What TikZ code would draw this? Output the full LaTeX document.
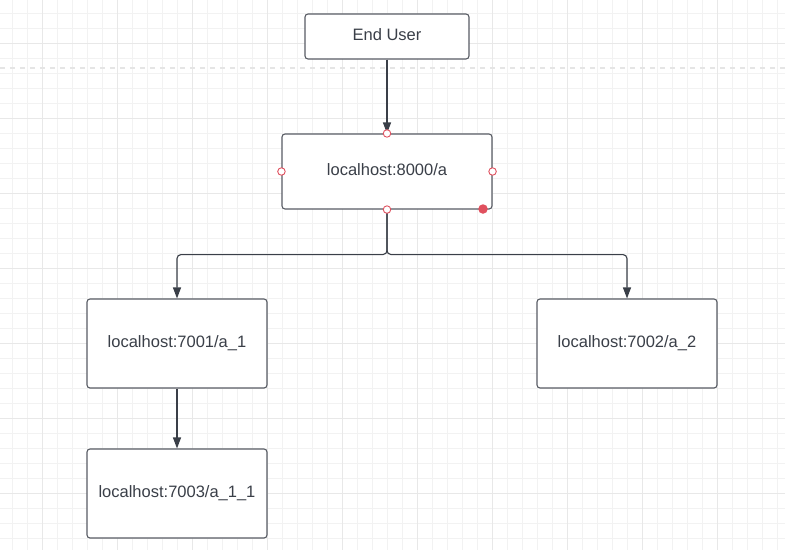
\documentclass[tikz,border=0pt]{standalone}
\usepackage{fontspec}
\setmainfont{Liberation Sans}
\usetikzlibrary{arrows.meta}

\definecolor{inkgray}{HTML}{3A3F48}
\definecolor{boxgray}{HTML}{585C64}
\definecolor{gridfine}{HTML}{F2F2F2}
\definecolor{gridbold}{HTML}{E8E8E8}
\definecolor{pinred}{HTML}{E0505E}

\tikzset{
  server/.style={draw=boxgray, line width=1.1pt, rounded corners=3pt, fill=white,
    text=inkgray, font=\fontsize{16.5}{20}\selectfont, inner sep=0pt,
    text height=12.5pt, text depth=4.5pt},
  link/.style={draw=inkgray, line width=1.1pt, rounded corners=4pt,
    -{Triangle[length=11pt,width=8pt]}},
  pin/.style={circle, draw=pinred, line width=0.9pt, fill=white, inner sep=0pt, minimum size=7.5pt},
  hotpin/.style={circle, fill=pinred, inner sep=0pt, minimum size=9.5pt}
}

\begin{document}
\begin{tikzpicture}[x=1pt,y=-1pt]
  \useasboundingbox[fill=white] (0,0) rectangle (785,550);
  % grid
  \foreach \gx in {12.3,27.3,...,785} {\draw[gridfine, line width=1pt] (\gx,0) -- (\gx,550);}
  \foreach \gy in {13.5,28.5,...,550} {\draw[gridfine, line width=1pt] (0,\gy) -- (785,\gy);}
  \foreach \gx in {42.3,117.3,...,785} {\draw[gridbold, line width=1.4pt] (\gx,0) -- (\gx,550);}
  \foreach \gy in {43.5,118.5,...,550} {\draw[gridbold, line width=1.4pt] (0,\gy) -- (785,\gy);}
  \draw[gridbold!80!gray!60, line width=1.4pt, dash pattern=on 5pt off 5pt] (0,68) -- (785,68);

  \node[server, minimum width=164pt, minimum height=45pt] (user) at (387,36.5) {End User};
  \node[server, minimum width=210pt, minimum height=75pt] (a) at (387,171.5) {localhost:8000/a};
  \node[server, minimum width=180pt, minimum height=89pt] (a1) at (177,343.5) {localhost:7001/a\_1};
  \node[server, minimum width=180pt, minimum height=89pt] (a2) at (627,343.5) {localhost:7002/a\_2};
  \node[server, minimum width=180pt, minimum height=89pt] (a11) at (177,493.5) {localhost:7003/a\_1\_1};

  \draw[link] (user.south) -- (a.north);
  \draw[link] (a.south) -- ++(0,45) -| (a1.north);
  \draw[link] (a.south) -- ++(0,45) -| (a2.north);
  \draw[link] (a1.south) -- (a11.north);

  % selection handles
  \foreach \side in {north,south,east,west} {\node[pin] at (a.\side) {};}
  \node[hotpin] (grab) at (483,209) {};
\end{tikzpicture}
\end{document}
